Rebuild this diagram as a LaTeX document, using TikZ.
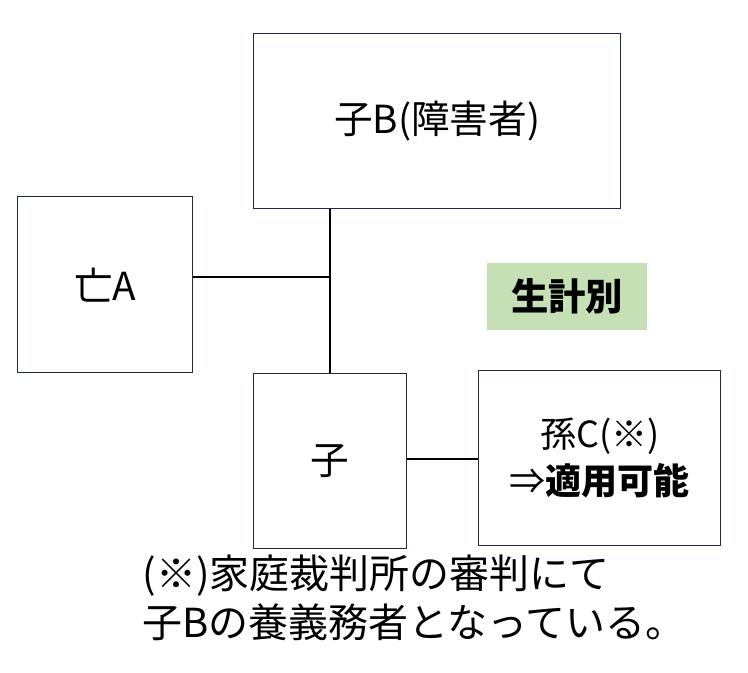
\documentclass[tikz,border=0pt]{standalone}
\usepackage{fontspec}
\setmainfont{Noto Sans CJK JP}
\definecolor{gr}{HTML}{C5E0B4}
\definecolor{bd}{HTML}{1F2A44}
\begin{document}
\begin{tikzpicture}[x=0.75pt,y=-0.75pt,
  box/.style={draw=bd,line width=1.1pt,inner sep=0pt,anchor=north west},
  ln/.style={line width=1.5pt,black}]
\useasboundingbox (0,0) rectangle (748,672);
\node[box,minimum width=367*0.75pt,minimum height=175*0.75pt,font=\fontsize{29}{34}\selectfont] (B) at (253,33) {子B(障害者)};
\node[box,minimum width=175*0.75pt,minimum height=176*0.75pt,font=\fontsize{29}{34}\selectfont] (A) at (17,196) {亡A};
\node[box,minimum width=153*0.75pt,minimum height=175*0.75pt,font=\fontsize{29}{34}\selectfont] (K) at (253,373) {子};
\node[box,minimum width=242*0.75pt,minimum height=175*0.75pt,font=\fontsize{27}{35}\selectfont,align=center] (C) at (478,370) {孫C(※)\\⇒\textbf{適用可能}};
\node[fill=gr,minimum width=160*0.75pt,minimum height=67*0.75pt,inner sep=0pt,anchor=north west,font=\bfseries\fontsize{28}{30}\selectfont] (G) at (487,263) {生計別};
\coordinate (J) at (330,277);
\draw[ln] (B.south -| J) -- (K.north -| J);
\draw[ln] (A.east |- J) -- (J);
\draw[ln] (K.east |- 459,459) -- (C.west |- 459,459);
\node[anchor=north west,align=left,font=\fontsize{30}{37}\selectfont] (N) at (138,550) {(※)家庭裁判所の審判にて\\子Bの養義務者となっている。};
\end{tikzpicture}
\end{document}
